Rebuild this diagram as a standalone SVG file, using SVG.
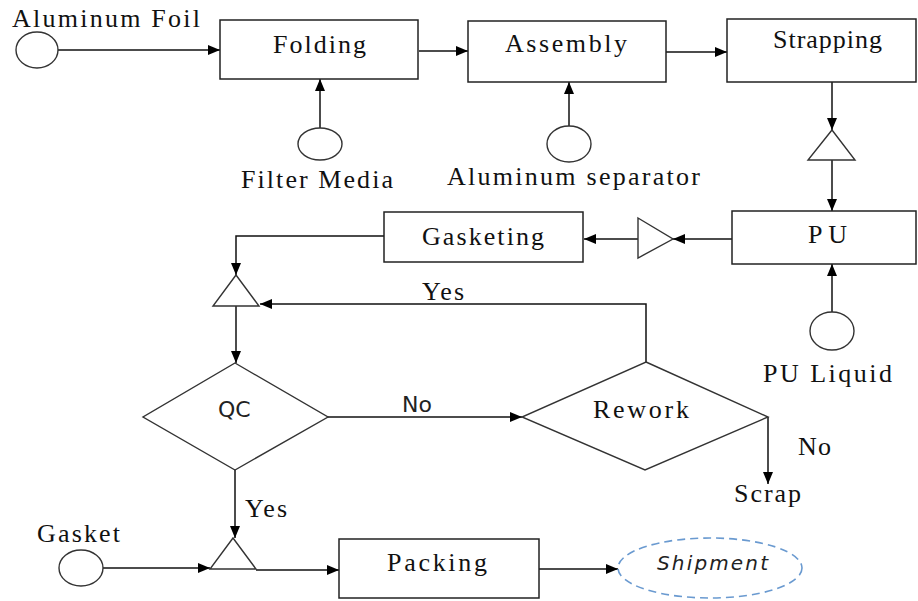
<svg xmlns="http://www.w3.org/2000/svg" width="918" height="601" viewBox="0 0 918 601">
<style>
.box{fill:#fff;stroke:#222;stroke-width:1.5}
.shp{fill:#fff;stroke:#333;stroke-width:1.4}
.ln{fill:none;stroke:#111;stroke-width:1.5}
.t{font-family:"Liberation Serif","Times New Roman",serif;font-size:26px;fill:#111}
.s{font-family:"DejaVu Sans",Verdana,sans-serif;font-size:22px;fill:#222}
.sh{font-family:"DejaVu Sans",Verdana,sans-serif;font-size:20px;font-style:italic;fill:#222}
</style>
<defs>
<marker id="ah" markerUnits="userSpaceOnUse" markerWidth="12" markerHeight="10" refX="12" refY="5" orient="auto">
<path d="M0,0 L12,5 L0,10 Z" fill="#000"/>
</marker>
</defs>
<rect width="918" height="601" fill="#fff"/>

<g id="connectors">
<line class="ln" x1="58" y1="50" x2="220" y2="50" marker-end="url(#ah)"/>
<line class="ln" x1="320" y1="128" x2="320" y2="79" marker-end="url(#ah)"/>
<line class="ln" x1="419" y1="51" x2="468" y2="51" marker-end="url(#ah)"/>
<line class="ln" x1="569" y1="126" x2="569" y2="82" marker-end="url(#ah)"/>
<line class="ln" x1="666" y1="52" x2="727" y2="52" marker-end="url(#ah)"/>
<line class="ln" x1="832" y1="82" x2="832" y2="130" marker-end="url(#ah)"/>
<line class="ln" x1="832" y1="160" x2="832" y2="211" marker-end="url(#ah)"/>
<line class="ln" x1="832" y1="312" x2="832" y2="264" marker-end="url(#ah)"/>
<line class="ln" x1="732" y1="239" x2="673" y2="239" marker-end="url(#ah)"/>
<line class="ln" x1="638" y1="239" x2="584" y2="239" marker-end="url(#ah)"/>
<polyline class="ln" points="384,236 236,236 236,275" marker-end="url(#ah)"/>
<line class="ln" x1="236" y1="306" x2="236" y2="363" marker-end="url(#ah)"/>
<polyline class="ln" points="646,362 646,304 260,304" marker-end="url(#ah)"/>
<line class="ln" x1="328" y1="417" x2="522" y2="417" marker-end="url(#ah)"/>
<polyline class="ln" points="768,417 768,484" marker-end="url(#ah)"/>
<line class="ln" x1="235" y1="470" x2="235" y2="538" marker-end="url(#ah)"/>
<line class="ln" x1="103" y1="568" x2="210" y2="568" marker-end="url(#ah)"/>
<line class="ln" x1="256" y1="570" x2="339" y2="570" marker-end="url(#ah)"/>
<line class="ln" x1="539" y1="569" x2="618" y2="569" marker-end="url(#ah)"/>
</g>

<g id="aluminum-foil">
<ellipse class="shp" cx="37" cy="50" rx="21" ry="18"/>
<text class="t" x="12" y="27" textLength="188" lengthAdjust="spacing">Aluminum Foil</text>
</g>
<g id="folding">
<rect class="box" x="220" y="20" width="198" height="59"/>
<text class="t" x="273" y="53" textLength="93" lengthAdjust="spacing">Folding</text>
</g>
<g id="filter-media">
<ellipse class="shp" cx="320" cy="144" rx="22" ry="16"/>
<text class="t" x="241" y="188" textLength="152" lengthAdjust="spacing">Filter Media</text>
</g>
<g id="assembly">
<rect class="box" x="468" y="21" width="198" height="61"/>
<text class="t" x="505" y="52" textLength="122" lengthAdjust="spacing">Assembly</text>
</g>
<g id="aluminum-separator">
<ellipse class="shp" cx="569" cy="144" rx="22" ry="18"/>
<text class="t" x="447" y="185" textLength="253" lengthAdjust="spacing">Aluminum separator</text>
</g>
<g id="strapping">
<rect class="box" x="727" y="19" width="189" height="63"/>
<text class="t" x="773" y="48" textLength="109" lengthAdjust="spacing">Strapping</text>
</g>
<g id="store1">
<polygon class="shp" points="832,130 855,160 808,160"/>
</g>
<g id="pu">
<rect class="box" x="732" y="211" width="184" height="53"/>
<text class="t" x="808" y="243" textLength="39" lengthAdjust="spacing">PU</text>
</g>
<g id="pu-liquid">
<ellipse class="shp" cx="832" cy="331" rx="22" ry="19"/>
<text class="t" x="763" y="382" textLength="129" lengthAdjust="spacing">PU Liquid</text>
</g>
<g id="store2">
<polygon class="shp" points="638,218 673,239 638,258"/>
</g>
<g id="gasketing">
<rect class="box" x="384" y="212" width="199" height="50"/>
<text class="t" x="422" y="245" textLength="122" lengthAdjust="spacing">Gasketing</text>
</g>
<g id="store3">
<polygon class="shp" points="236,275 259,306 213,306"/>
</g>
<g id="yes-label-top">
<text class="t" x="422" y="300" textLength="42" lengthAdjust="spacing">Yes</text>
</g>
<g id="qc">
<polygon class="shp" points="235,363 328,417 235,470 143,417"/>
<text class="s" x="218" y="417">QC</text>
</g>
<g id="no-label-qc">
<text class="s" x="402" y="412">No</text>
</g>
<g id="rework">
<polygon class="shp" points="646,362 768,417 645,470 522,417"/>
<text class="t" x="593" y="418" textLength="96" lengthAdjust="spacing">Rework</text>
</g>
<g id="no-label-rework">
<text class="t" x="798" y="455" textLength="33" lengthAdjust="spacing">No</text>
</g>
<g id="scrap">
<text class="t" x="734" y="502" textLength="67" lengthAdjust="spacing">Scrap</text>
</g>
<g id="yes-label-bottom">
<text class="t" x="245" y="517" textLength="42" lengthAdjust="spacing">Yes</text>
</g>
<g id="gasket">
<ellipse class="shp" cx="81" cy="568" rx="22" ry="18"/>
<text class="t" x="37" y="542" textLength="83" lengthAdjust="spacing">Gasket</text>
</g>
<g id="store4">
<polygon class="shp" points="233,538 256,569 210,569"/>
</g>
<g id="packing">
<rect class="box" x="339" y="539" width="200" height="59"/>
<text class="t" x="387" y="571" textLength="100" lengthAdjust="spacing">Packing</text>
</g>
<g id="shipment">
<ellipse cx="710" cy="568" rx="92" ry="30" fill="#fff" stroke="#6a9ad0" stroke-width="1.6" stroke-dasharray="8,5"/>
<text class="sh" x="657" y="570" textLength="111" lengthAdjust="spacing">Shipment</text>
</g>
</svg>
